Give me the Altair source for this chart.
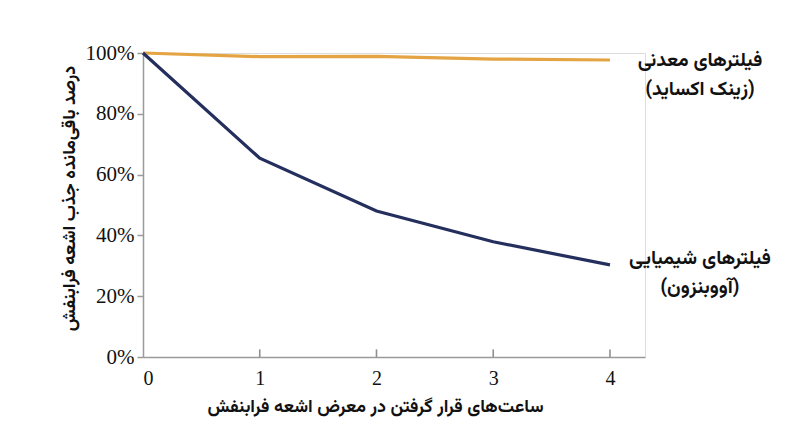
import altair as alt
import pandas as pd

hours = [0, 1, 2, 3, 4]
mineral = [100, 98.8, 98.9, 98.0, 97.7]
chemical = [100, 65.4, 48.0, 37.9, 30.3]
series_names = ["فیلترهای معدنی\n(زینک اکساید)", "فیلترهای شیمیایی\n(آووبنزون)"]
colors = ["#E4A443", "#242F5E"]
x_title = "ساعت‌های قرار گرفتن در معرض اشعه فرابنفش"
y_title = "درصد باقی‌مانده جذب اشعه فرابنفش"
y_ticks = [0, 20, 40, 60, 80, 100]
x_ticks = [0, 1, 2, 3, 4]
tick_marks = [1, 2, 3, 4]
tick_lo = [0, 0, 0, 0]
tick_hi = [2.5, 2.5, 2.5, 2.5]

rows = []
for h, m, c in zip(hours, mineral, chemical):
    rows.append({"h": h, "v": m, "s": series_names[0]})
    rows.append({"h": h, "v": c, "s": series_names[1]})
df = pd.DataFrame(rows)

fa_font = "Vazirmatn, Noto Sans Arabic, DejaVu Sans"
num_font = "Liberation Serif"

xscale = alt.Scale(domain=[0, 4.3], nice=False)
yscale = alt.Scale(domain=[0, 100], nice=False)
cscale = alt.Scale(domain=series_names, range=colors)

base = alt.Chart(df)

lines = base.mark_line(strokeWidth=3.2).encode(
    x=alt.X("h:Q", scale=xscale,
            axis=alt.Axis(title=x_title, values=x_ticks, ticks=False, grid=False,
                          labelFont=num_font, labelFontSize=20, labelColor="#111",
                          labelPadding=11, domainColor="#9a9a9a", domainWidth=1.5,
                          titleFont=fa_font, titleFontSize=18, titleFontWeight="bold",
                          titleColor="#111", titlePadding=9, titleX=232, format="d")),
    y=alt.Y("v:Q", scale=yscale,
            axis=alt.Axis(title=y_title, values=y_ticks, grid=False,
                          labelExpr="datum.value + '%'",
                          labelFont=num_font, labelFontSize=21, labelColor="#111",
                          labelPadding=3, tickSize=6, tickColor="#9a9a9a", tickWidth=1.5,
                          domainColor="#9a9a9a", domainWidth=1.5,
                          titleFont=fa_font, titleFontSize=18, titleFontWeight="bold",
                          titleColor="#111", titlePadding=7, titleY=145)),
    color=alt.Color("s:N", scale=cscale, legend=None),
    detail="s:N",
)

tick_df = pd.DataFrame({"tx": tick_marks, "ty": tick_lo, "ty2": tick_hi})
xticks = alt.Chart(tick_df).mark_rule(color="#8f8f8f", strokeWidth=1.6).encode(
    x=alt.X("tx:Q", scale=xscale),
    y=alt.Y("ty:Q", scale=yscale),
    y2=alt.Y2("ty2:Q"),
)

last = df[df["h"] == hours[-1]]
lab1 = alt.Chart(last[last["s"] == series_names[0]]).mark_text(
    font=fa_font, fontSize=19.5, fontWeight="bold", color="#111", align="center",
    baseline="middle", lineBreak="\n", lineHeight=29, dx=90, dy=0
).encode(x=alt.X("h:Q", scale=xscale), y=alt.Y("v:Q", scale=yscale), text="s:N")
lab2 = alt.Chart(last[last["s"] == series_names[1]]).mark_text(
    font=fa_font, fontSize=19.5, fontWeight="bold", color="#111", align="center",
    baseline="middle", lineBreak="\n", lineHeight=29, dx=90, dy=-7
).encode(x=alt.X("h:Q", scale=xscale), y=alt.Y("v:Q", scale=yscale), text="s:N")

chart = alt.layer(lines, xticks, lab1, lab2).properties(
    width=502, height=304,
    autosize=alt.AutoSizeParams(type="none"),
    padding={"left": 135, "top": 45, "right": 147, "bottom": 82},
).configure_view(stroke=None).configure(background="white")

chart.save("out.html", embed_options={"renderer": "svg", "actions": False})
